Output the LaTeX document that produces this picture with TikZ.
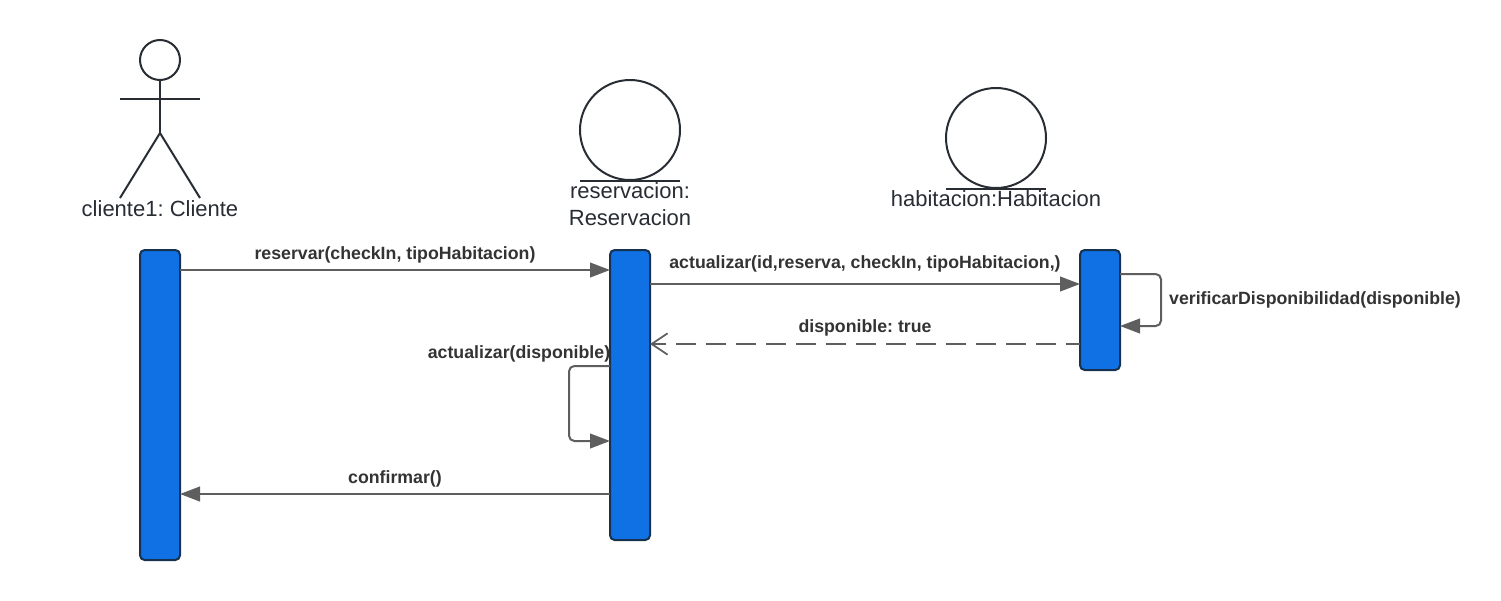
\documentclass[tikz,border=0pt]{standalone}
\usepackage{fontspec}
\setmainfont{Liberation Sans}
\usetikzlibrary{arrows.meta,calc}
\definecolor{barblue}{HTML}{1071E5}
\definecolor{barline}{HTML}{16324F}
\definecolor{linegray}{HTML}{5E5E5E}
\definecolor{inkdark}{HTML}{282C33}
\definecolor{textdark}{HTML}{333333}
\tikzset{
  x=0.75pt,y=-0.75pt,
  lifebar/.style={draw=barline,line width=1.5pt,fill=barblue,rounded corners=3.5pt,minimum width=30pt,inner sep=0pt,outer sep=0pt,anchor=north},
  msg/.style={draw=linegray,line width=1.5pt,rounded corners=4pt,-{Triangle[length=15pt,width=11pt]}},
  reply/.style={draw=linegray,line width=1.5pt,dash pattern=on 15pt off 7.5pt,dash phase=4.5pt,-{Straight Barb[length=12pt,width=16pt,line width=1.3pt]}},
  msglabel/.style={font=\fontsize{13.3}{15}\selectfont\bfseries,text=textdark,inner sep=0pt},
  objlabel/.style={font=\fontsize{16.5}{20.5}\selectfont,text=inkdark,inner sep=0pt,align=center},
  figure line/.style={draw=inkdark,line width=1.5pt},
}
\begin{document}
\frenchspacing
\begin{tikzpicture}
\useasboundingbox (0,0) rectangle (1501,600);
% actor
\node[figure line,circle,minimum size=30pt,inner sep=0pt] (head) at (160,60) {};
\coordinate (hip) at (160,133);
\coordinate (armL) at (120,99);
\coordinate (armR) at (200,99);
\coordinate (legL) at (120,198);
\coordinate (legR) at (200,198);
\draw[figure line] (head.south) -- (hip);
\draw[figure line] (armL) -- (armR);
\draw[figure line,line join=miter] (legL) -- (hip) -- (legR);
\node[objlabel] (lblc) at (160,209) {cliente1: Cliente};
% entities
\node[figure line,circle,minimum size=75pt,inner sep=0pt] (res) at (630,130) {};
\draw[figure line] ($(res.south)+(-50,0)$) -- ($(res.south)+(50,0)$);
\node[objlabel] (lblr) at (630,204) {reservacion:\\Reservacion};
\node[figure line,circle,minimum size=75pt,inner sep=0pt] (hab) at (996,138) {};
\draw[figure line] ($(hab.south)+(-50,0)$) -- ($(hab.south)+(50,0)$);
\node[objlabel] (lblh) at (996,199) {habitacion:Habitacion};
% activation bars
\node[lifebar,minimum height=232.5pt] (c) at (160,250) {};
\node[lifebar,minimum height=217.5pt] (r) at (630,250) {};
\node[lifebar,minimum height=90pt] (h) at (1100,250) {};
% message levels
\coordinate (y1) at (0,270);
\coordinate (y2) at (0,284);
\coordinate (y3) at (0,274);
\coordinate (y3b) at (0,326);
\coordinate (y4) at (0,344);
\coordinate (y5) at (0,366);
\coordinate (y5b) at (0,441);
\coordinate (y6) at (0,494);
\coordinate (selfR) at (1161,0);
\coordinate (selfL) at (569,0);
% messages
\draw[msg] (c.east |- y1) -- (r.west |- y1);
\draw[msg] (r.east |- y2) -- (h.west |- y2);
\draw[msg] (h.east |- y3) -- (selfR |- y3) -- (selfR |- y3b) -- (h.east |- y3b);
\draw[reply] (h.west |- y4) -- (r.east |- y4);
\draw[msg] (r.west |- y5) -- (selfL |- y5) -- (selfL |- y5b) -- (r.west |- y5b);
\draw[msg] (r.west |- y6) -- (c.east |- y6);
% labels
\node[msglabel] (m1) at (395,255) {reservar(checkIn, tipoHabitacion)};
\node[msglabel] (m2) at (865,264) {actualizar(id,reserva, checkIn, tipoHabitacion,)};
\node[msglabel] (m3) at (1315,299.500) {verificarDisponibilidad(disponible)};
\node[msglabel] (m4) at (865,328) {disponible: true};
\node[msglabel] (m5) at (519,353.500) {actualizar(disponible)};
\node[msglabel] (m6) at (395,478.500) {confirmar()};
\end{tikzpicture}
\end{document}
